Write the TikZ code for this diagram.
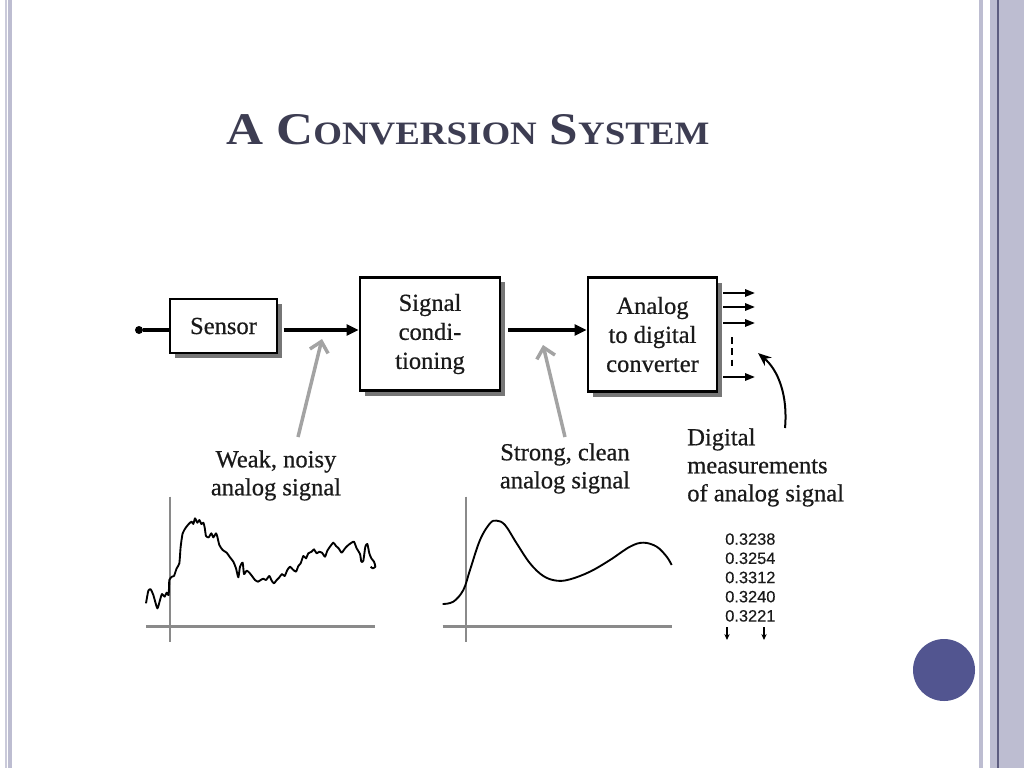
\documentclass[tikz,border=0pt]{standalone}
\usepackage{fontspec}
\setmainfont[FakeBold=0.6]{Liberation Serif}
\newfontfamily\diagfont[FakeBold=0.6]{Liberation Serif}
\newfontfamily\titlefont[FakeStretch=1.13]{Liberation Serif Bold}
\newfontfamily\numfont[FakeBold=0.3]{Liberation Sans}
\usetikzlibrary{arrows.meta,shadows}
\definecolor{titlecol}{HTML}{3D3D52}
\definecolor{stripe}{HTML}{BDBDD1}
\definecolor{stripelight}{HTML}{CACADA}
\definecolor{stripedark}{HTML}{5E5E80}
\definecolor{dotblue}{HTML}{525590}
\definecolor{callout}{HTML}{A3A3A3}
\definecolor{axiscol}{HTML}{8A8A8A}
\definecolor{shadowcol}{HTML}{767676}
\definecolor{inkcol}{HTML}{1A1A1A}
\begin{document}
\begin{tikzpicture}[x=0.75pt,y=-0.75pt,
  blockbox/.style={draw=black, line width=1.9pt, fill=white, align=center, inner sep=0pt,
     text=inkcol, font=\diagfont\fontsize{18.4}{21.75}\selectfont,
     drop shadow={shadow xshift=3.75pt, shadow yshift=-3.75pt, fill=shadowcol, opacity=1}},
  lbl/.style={font=\diagfont\fontsize{18.4}{21}\selectfont, text=inkcol, inner sep=0pt},
  mainline/.style={line width=2.5pt, -{Triangle[length=9pt,width=8pt]}},
  outarrow/.style={line width=1.5pt, -{Triangle[length=7.5pt,width=5.5pt]}},
  pointer/.style={draw=callout, line width=2.6pt, -{Straight Barb[length=7.5pt,width=14pt,line width=2.6pt]}},
  axis/.style={draw=axiscol, line width=1.9pt},
  curve/.style={line width=1.4pt, line join=round},
  tinyarrow/.style={line width=0.8pt, -{Stealth[length=4.5pt,width=4pt]}}
]
\useasboundingbox (0,0) rectangle (1024,768);
\fill[white] (0,0) rectangle (1024,768);
% side decorations
\fill[stripelight] (5,0) rectangle (7,768);
\fill[stripe] (7.5,0) rectangle (12,768);
\fill[stripe] (979,0) rectangle (983,768);
\fill[stripe] (990,0) rectangle (1024,768);
\draw[stripedark, line width=1.1pt] (998,0) -- (998,768);
\node[circle, fill=dotblue, minimum size=46.5pt, inner sep=0pt] (bluedot) at (944,670) {};
% title
\node[anchor=base, text=titlecol, inner sep=0pt] (title) at (468,144)
  {\titlefont\fontsize{34}{40}\selectfont A C{\fontsize{24.5}{30}\selectfont ONVERSION} S{\fontsize{24.5}{30}\selectfont YSTEM}};
% blocks
\node[blockbox, minimum width=80.25pt, minimum height=40.5pt] (sensor) at (223.5,326) {Sensor};
\node[blockbox, minimum width=105pt, minimum height=85pt] (cond) at (430,334) {Signal\\condi-\\tioning};
\node[blockbox, minimum width=96.75pt, minimum height=85.5pt] (adc) at (652.5,334.5) {Analog\\to digital\\converter};
% main line
\node[circle, fill=black, inner sep=0pt, minimum size=6pt] (in) at (139,330) {};
\draw[line width=2.5pt] (in) -- (sensor.west |- in);
\draw[mainline, shorten <=4pt] (sensor.east |- in) -- (cond.west |- in);
\draw[mainline, shorten <=5pt] (cond.east |- in) -- (adc.west |- in);
% outputs
\foreach \yy [count=\i] in {293,307,323,377} {
  \coordinate (o\i) at (755,\yy);
  \draw[outarrow, shorten <=3.75pt] (adc.east |- o\i) -- (o\i);
}
\coordinate (d1) at (732,337);
\coordinate (d2) at (732,366);
\draw[line width=1.2pt, dash pattern=on 5pt off 3.5pt] (d1) -- (d2);
% labels
\node[lbl, align=center, anchor=north] (weak) at (276,450) {Weak, noisy\\analog signal};
\node[lbl, align=center, anchor=north] (strong) at (565,443) {Strong, clean\\analog signal};
\node[lbl, align=left, anchor=north west] (digital) at (687,428) {Digital\\measurements\\of analog signal};
% pointers
\coordinate (p1tail) at (298,437); \coordinate (p1tip) at (322,339);
\draw[pointer] (p1tail) -- (p1tip);
\coordinate (p2tail) at (565,437); \coordinate (p2tip) at (543,345);
\draw[pointer] (p2tail) -- (p2tip);
\coordinate (c1) at (785,428); \coordinate (c2) at (758,353);
\draw[line width=1.5pt, -{Stealth[length=10pt,width=8pt]}] (c1) .. controls (788,395) and (778,370) .. (c2);
% numbers
\node[font=\numfont\fontsize{12.3}{14.4}\selectfont, text=inkcol, align=left, anchor=north west, inner sep=0pt] (nums) at (725,533)
  {0.3238\\0.3254\\0.3312\\0.3240\\0.3221};
\coordinate (a1s) at (727,627); \coordinate (a1e) at (727,640);
\coordinate (a2s) at (764,627); \coordinate (a2e) at (764,640);
\draw[tinyarrow] (a1s) -- (a1e);
\draw[tinyarrow] (a2s) -- (a2e);
% noisy graph
\begin{scope}[xshift=97.5pt, yshift=-375pt, x=0.25pt, y=-0.25pt]
  \draw[axis] (48,380) -- (735,380);
  \draw[axis] (120,-10) -- (120,425);
  \draw[curve] plot[smooth, tension=0.35] coordinates {(48,310) (55,272) (62,268) (70,285) (82,325) (90,300) (96,282) (104,290) (110,278) (116,285) (118,240) (126,230) (132,228) (140,205) (148,190) (152,140) (158,100) (168,82) (178,70) (185,65) (190,72) (195,55) (202,68) (208,60) (214,72) (220,68) (224,82) (228,108) (236,112) (244,100) (250,112) (258,100) (262,110) (268,135) (278,150) (290,158) (300,172) (310,185) (318,205) (325,232) (330,200) (338,188) (342,222) (350,212) (358,218) (366,228) (375,240) (384,245) (392,240) (400,236) (408,240) (418,228) (425,242) (432,250) (440,240) (448,232) (456,222) (464,228) (472,210) (480,200) (488,208) (498,215) (505,198) (512,190) (520,168) (528,175) (535,160) (545,155) (552,148) (560,160) (568,155) (576,158) (585,170) (592,152) (600,140) (610,128) (618,138) (626,145) (635,158) (645,145) (655,135) (665,128) (672,125) (680,145) (690,162) (694,185) (700,182) (706,140) (712,132) (718,160) (724,175) (732,185) (736,200) (728,205) (722,200)};
\end{scope}
% smooth graph
\begin{scope}[xshift=322.5pt, yshift=-367.5pt, x=0.25pt, y=-0.25pt]
  \draw[axis] (38,410) -- (725,410);
  \draw[axis] (108,20) -- (108,455);
  \draw[curve] plot[smooth, tension=0.6] coordinates {(38,342) (70,335) (100,300) (120,240) (150,150) (180,100) (200,92) (225,105) (260,160) (300,220) (340,258) (380,272) (420,268) (480,245) (540,210) (600,170) (640,158) (680,170) (710,200) (725,225)};
\end{scope}
\end{tikzpicture}
\end{document}
